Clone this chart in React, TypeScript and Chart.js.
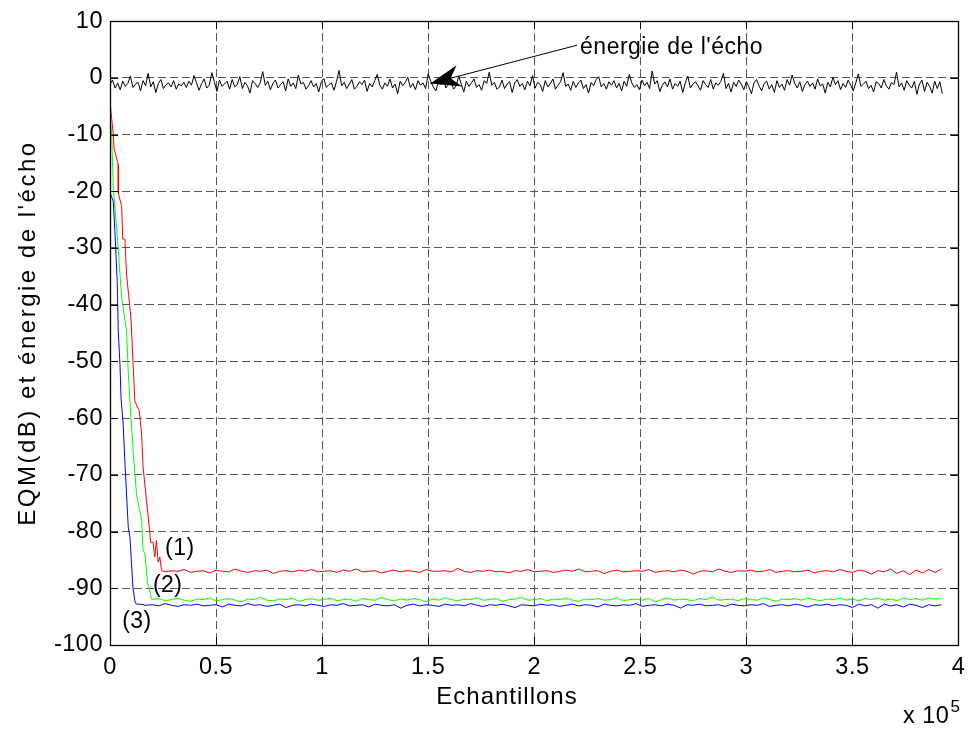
import React, { useEffect, useRef } from 'react';
import { Chart, registerables } from 'chart.js';
Chart.register(...registerables);

const FONT = "'Liberation Sans', Arial, Helvetica, sans-serif";

const X_TICK_LABELS = ['0', '0.5', '1', '1.5', '2', '2.5', '3', '3.5', '4'];
const Y_TICK_LABELS = ['-100', '-90', '-80', '-70', '-60', '-50', '-40', '-30', '-20', '-10', '0', '10'];
const X_TITLE = 'Echantillons';
const Y_TITLE = "EQM(dB) et énergie de l'écho";
const X_EXP_BASE = 'x 10';
const X_EXP_POW = '5';

// energy of the echo (black), sampled from x = 0 with constant spacing (x 10^5 samples)
const BLACK_START = 0;
const BLACK_STEP = 0.012;
const BLACK_Y = [
  -1.2,-0.4,-1.8,-0.9,-2.1,-0.6,-1.5,-1.0,0.3,-1.7,-1.1,-0.8,-2.3,-0.5,-1.4,0.8,-1.6,-0.7,-2.6,-1.0,
  -0.3,-1.9,-1.2,-0.9,-1.6,-0.5,-2.0,-1.1,-1.4,-0.8,-1.7,-0.6,-1.3,0.4,-0.9,-2.2,-1.0,-0.2,-1.8,-1.3,
  0.9,-0.7,-2.4,-0.4,-1.5,-1.1,-0.6,-2.0,-0.3,-1.6,-1.2,0.2,-1.9,-0.8,-1.4,-2.7,-0.5,-1.0,-1.7,-0.9,
  1.1,-1.3,-0.6,-2.1,-1.0,-0.4,-1.8,-1.2,-0.7,-2.3,-0.2,-1.5,-0.9,-1.9,0.5,-1.1,-0.8,-2.0,-1.4,-0.5,
  -1.6,-1.0,-2.5,-0.7,-0.1,-1.7,-1.2,-0.9,-2.2,-0.6,1.3,-1.4,-0.8,-1.9,-1.1,-0.3,-2.0,-1.5,-0.7,-1.2,
  -0.4,-2.4,-1.0,-1.6,-0.5,0.6,-1.3,-2.0,-0.9,-1.5,-0.2,-1.8,-1.1,-2.8,-0.6,-1.4,-0.8,0.1,-1.7,-1.0,
  -2.1,-0.5,-1.3,-0.9,-1.9,0.7,-0.6,-1.6,-2.3,-0.8,-1.2,-0.3,-1.8,-1.0,-0.7,-2.0,-1.4,0.3,-1.1,-2.5,
  -0.6,-1.5,-0.9,-0.2,-1.7,-1.2,-2.2,-0.5,-1.0,1.0,-1.3,-0.8,-2.0,-1.6,-0.4,-1.9,-1.1,-0.7,-2.6,-0.9,
  -0.3,-1.5,-1.0,-2.1,-0.6,-1.4,0.4,-1.8,-0.8,-1.2,-2.4,-0.5,-1.6,-1.0,-0.2,-2.0,-1.3,-0.7,0.9,-1.5,
  -1.1,-2.2,-0.6,-1.7,-0.9,-0.4,-1.9,-1.2,-2.7,-0.8,-1.4,-0.3,0.2,-1.6,-1.0,-2.0,-0.7,-1.3,-0.5,-1.8,
  -1.0,-2.3,-0.6,-1.5,0.6,-0.9,-1.7,-1.2,-2.1,-0.4,-1.4,-0.8,-1.9,1.2,-1.1,-0.5,-2.4,-1.3,-0.7,-1.6,
  -0.2,-2.0,-1.0,-1.5,-0.6,-2.6,-0.9,0.3,-1.8,-1.1,-0.7,-1.4,-2.2,-0.5,-1.2,-1.7,-0.3,-2.0,-0.9,-1.3,
  -0.6,0.8,-1.9,-1.0,-2.5,-0.8,-1.5,-0.4,-1.1,-2.1,-0.7,-1.6,-2.8,-0.9,-0.3,-1.4,-2.3,-1.0,-0.6,-2.0,
  -1.2,-2.6,
  -0.5,-1.7,-1.1,-2.2,-0.3,-1.3,0.5,-1.0,-1.8,-0.7,-2.4,-1.2,-0.6,-1.5,-0.9,-2.0,-0.2,-1.4,-1.1,-2.7,
  -0.8,-1.6,0.1,-1.2,-0.5,-2.1,-1.0,-1.7,-0.4,-1.3,-2.3,-0.9,0.7,-1.5,-1.1,-0.6,-1.9,-1.3,-2.5,-0.7,
  -1.0,-1.8,-0.3,-1.4,-2.0,-0.8,-1.2,1.0,-1.6,-0.9,-2.2,-0.5,-1.3,-1.8,-0.6,-2.9,-1.1,-0.4,-2.4,-0.8,
  -1.5,-2.7,-0.6,-1.9,-0.7,-2.8,
];

// curve (1) red: convergence then steady state
const RED_DESC_X = [0, 0.0155, 0.019, 0.039, 0.039, 0.055, 0.06, 0.07, 0.078, 0.094, 0.099, 0.109, 0.117, 0.138, 0.149, 0.156, 0.172, 0.188, 0.191, 0.203, 0.211, 0.219, 0.227, 0.235, 0.243];
const RED_DESC_Y = [-4.2, -10, -12.4, -15.3, -20.3, -22.7, -28.4, -28.4, -34.6, -40.6, -42.6, -50.5, -57, -58.7, -62.8, -68.7, -74.5, -80.3, -81.9, -81.9, -84.5, -81.6, -85.4, -84.5, -86.9];
const RED_FLOOR_START = 0.26;
const RED_FLOOR_STEP = 0.03;
const RED_FLOOR_Y = [
  -87.1,-86.9,-87.0,-86.7,-87.2,-87.0,-86.9,-87.3,-86.8,-87.0,
  -87.1,-86.6,-87.0,-87.2,-86.9,-87.0,-86.8,-87.4,-87.0,-86.9,
  -87.1,-86.8,-87.0,-86.7,-87.1,-87.0,-86.9,-87.2,-86.8,-87.0,
  -86.6,-87.1,-87.0,-86.9,-87.3,-87.0,-86.8,-87.1,-86.9,-87.0,
  -87.2,-86.7,-87.0,-87.0,-86.9,-87.1,-86.5,-87.0,-87.2,-86.9,
  -87.0,-86.8,-87.1,-87.0,-87.3,-86.9,-87.0,-86.7,-87.1,-87.0,
  -86.9,-87.2,-87.0,-86.8,-87.0,-86.6,-87.1,-87.0,-86.9,-87.4,
  -87.0,-86.8,-87.1,-87.0,-86.9,-87.0,-86.7,-87.2,-87.0,-86.9,
  -87.1,-86.8,-87.0,-87.5,-87.0,-86.9,-87.1,-86.6,-87.0,-87.2,
  -86.9,-87.0,-86.8,-87.1,-87.0,-86.7,-87.2,-87.0,-86.9,-87.1,
  -87.0,-86.8,-87.3,-87.0,-86.9,-87.1,-86.7,-87.0,-87.2,-86.8,
  -87.0,-87.5,-86.9,-87.1,-86.6,-87.4,-86.9,-87.6,-86.8,-87.3,
  -86.7,-87.2,-86.6,
];

// curve (2) green
const GREEN_DESC_X = [0, 0.008, 0.0155, 0.034, 0.055, 0.078, 0.086, 0.094, 0.109, 0.125, 0.149, 0.156, 0.164, 0.178, 0.188, 0.195];
const GREEN_DESC_Y = [-7.2, -10, -19.5, -27.6, -38.8, -44.7, -51.7, -57, -65.8, -73.4, -78, -83.3, -83.9, -89.2, -90.4, -91.9];
const GREEN_FLOOR_START = 0.2;
const GREEN_FLOOR_STEP = 0.03;
const GREEN_FLOOR_Y = [
  -92.0,-91.8,-92.2,-92.0,-91.7,-92.1,-92.3,-91.9,-92.0,-91.7,
  -92.2,-92.0,-91.8,-92.1,-92.4,-91.9,-92.0,-91.6,-92.1,-92.2,
  -91.9,-92.0,-91.7,-92.3,-92.0,-91.8,-92.1,-92.0,-91.7,-92.2,
  -92.0,-91.9,-92.3,-91.8,-92.0,-92.1,-91.6,-92.0,-92.2,-91.9,
  -92.1,-91.8,-92.0,-92.4,-91.9,-92.1,-91.7,-92.0,-92.2,-91.9,
  -92.0,-91.7,-92.1,-92.0,-91.8,-92.3,-92.0,-91.9,-91.6,-92.1,
  -92.0,-91.8,-92.2,-91.9,-92.0,-91.7,-92.1,-92.3,-91.9,-92.0,
  -91.8,-92.1,-92.0,-91.7,-92.2,-92.0,-91.9,-92.1,-91.8,-92.4,
  -92.0,-91.7,-92.1,-91.9,-92.0,-92.2,-91.8,-92.0,-91.6,-92.1,
  -92.0,-91.9,-92.2,-91.8,-92.0,-92.1,-91.7,-92.0,-92.3,-91.9,
  -92.0,-91.8,-92.1,-91.7,-92.0,-92.2,-91.9,-92.0,-91.7,-92.1,
  -91.9,-92.2,-91.8,-92.0,-91.7,-92.1,-91.9,-92.2,-91.7,-92.0,
  -91.8,-92.1,-91.7,-91.9,-91.8,
];

// curve (3) blue
const BLUE_DESC_X = [0, 0.001, 0.0155, 0.023, 0.028, 0.034, 0.039, 0.047, 0.052, 0.062, 0.07, 0.078, 0.086, 0.094, 0.108, 0.118, 0.125];
const BLUE_DESC_Y = [-10, -20.3, -21.8, -27.1, -31.1, -35.9, -44.7, -50.5, -56.4, -61.1, -67.5, -73.4, -79.2, -81, -89.8, -92.4, -92.8];
const BLUE_FLOOR_START = 0.14;
const BLUE_FLOOR_STEP = 0.03;
const BLUE_FLOOR_Y = [
  -92.8,-93.0,-92.9,-93.1,-92.7,-93.0,-93.2,-92.9,-93.0,-92.8,
  -93.1,-93.0,-92.9,-93.3,-92.8,-93.0,-93.1,-92.7,-93.0,-92.9,
  -93.2,-93.0,-92.8,-93.4,-93.0,-92.9,-93.1,-92.8,-93.0,-93.2,
  -92.9,-93.0,-92.7,-93.1,-93.0,-92.9,-93.3,-92.8,-93.0,-93.1,
  -92.9,-93.5,-93.0,-92.8,-93.1,-92.9,-93.0,-93.2,-92.8,-93.0,
  -92.9,-93.1,-92.7,-93.0,-93.2,-92.9,-93.0,-92.8,-93.1,-93.4,
  -92.9,-93.0,-93.1,-92.8,-93.0,-92.9,-93.2,-93.0,-92.8,-93.1,
  -92.9,-93.0,-93.3,-92.8,-93.0,-93.1,-92.9,-93.0,-92.7,-93.2,
  -93.0,-92.9,-93.1,-92.8,-93.0,-93.5,-92.9,-93.0,-92.8,-93.1,
  -93.0,-92.9,-93.2,-92.8,-93.0,-93.1,-92.9,-93.0,-92.7,-93.2,
  -93.0,-92.9,-93.1,-92.8,-93.0,-93.3,-92.9,-93.0,-92.8,-93.1,
  -92.9,-93.0,-93.4,-92.8,-93.1,-92.9,-93.5,-92.8,-93.1,-92.9,
  -93.3,-92.8,-93.0,-93.4,-92.9,-93.1,-92.9,
];

// annotations (data coordinates)
const ANNOT_TEXT = "énergie de l'écho";
const ANNOT_TEXT_AT = [2.216, 4.22];
const ANNOT_LINE_FROM = [2.202, 5.75];
const ANNOT_ARROW_TIP = [1.51, -1.0];
const CURVE_LABELS = ['(1)', '(2)', '(3)'];
const CURVE_LABEL_AT = [[0.329, -83.0], [0.272, -89.5], [0.127, -95.8]];

function evenSeries(start: number, step: number, ys: number[]) {
  return ys.map((v, i) => ({ x: start + i * step, y: v }));
}
function xySeries(xs: number[], ys: number[]) {
  return xs.map((x, i) => ({ x, y: ys[i] }));
}

const decorPlugin = {
  id: 'decor',
  beforeDraw(chart: any) {
    const ctx = chart.ctx;
    ctx.save();
    ctx.fillStyle = '#fff';
    ctx.fillRect(0, 0, chart.width, chart.height);
    ctx.restore();
    ctx.letterSpacing = '0.5px';
  },
  afterDatasetsDraw(chart: any) {
    const { ctx, chartArea: a, scales } = chart;
    const sx = scales.x;
    const sy = scales.y;
    ctx.save();
    // inward tick marks on all four sides
    ctx.strokeStyle = '#000';
    ctx.lineWidth = 1;
    ctx.beginPath();
    const TL = 8;
    for (const t of sx.ticks) {
      const px = Math.round(sx.getPixelForValue(t.value)) + 0.5;
      ctx.moveTo(px, a.bottom);
      ctx.lineTo(px, a.bottom - TL);
      ctx.moveTo(px, a.top);
      ctx.lineTo(px, a.top + TL);
    }
    for (const t of sy.ticks) {
      const py = Math.round(sy.getPixelForValue(t.value)) + 0.5;
      ctx.moveTo(a.left, py);
      ctx.lineTo(a.left + TL, py);
      ctx.moveTo(a.right, py);
      ctx.lineTo(a.right - TL, py);
    }
    ctx.stroke();
    // axes box
    ctx.lineWidth = 1.3;
    ctx.strokeRect(Math.round(a.left) + 0.5, Math.round(a.top) + 0.5, Math.round(a.right - a.left), Math.round(a.bottom - a.top));

    // annotation arrow
    const tipX = sx.getPixelForValue(ANNOT_ARROW_TIP[0]);
    const tipY = sy.getPixelForValue(ANNOT_ARROW_TIP[1]);
    const fromX = sx.getPixelForValue(ANNOT_LINE_FROM[0]);
    const fromY = sy.getPixelForValue(ANNOT_LINE_FROM[1]);
    ctx.lineWidth = 1;
    ctx.beginPath();
    ctx.moveTo(fromX, fromY);
    ctx.lineTo(tipX, tipY);
    ctx.stroke();
    const dx = fromX - tipX;
    const dy = fromY - tipY;
    const len = Math.hypot(dx, dy);
    const ux = dx / len, uy = dy / len;
    const nx = -uy, ny = ux;
    const HL = 30, HW = 11, NOTCH = 21;
    ctx.fillStyle = '#000';
    ctx.beginPath();
    ctx.moveTo(tipX, tipY);
    ctx.lineTo(tipX + ux * HL + nx * HW, tipY + uy * HL + ny * HW);
    ctx.lineTo(tipX + ux * NOTCH, tipY + uy * NOTCH);
    ctx.lineTo(tipX + ux * HL - nx * HW, tipY + uy * HL - ny * HW);
    ctx.closePath();
    ctx.fill();

    ctx.font = `23px ${FONT}`;
    ctx.letterSpacing = '0.5px';
    ctx.textAlign = 'left';
    ctx.textBaseline = 'alphabetic';
    ctx.fillText(ANNOT_TEXT, sx.getPixelForValue(ANNOT_TEXT_AT[0]), sy.getPixelForValue(ANNOT_TEXT_AT[1]));

    // curve labels
    ctx.letterSpacing = '0.5px';
    ctx.textAlign = 'center';
    ctx.textBaseline = 'middle';
    CURVE_LABELS.forEach((lab, i) => {
      ctx.fillText(lab, sx.getPixelForValue(CURVE_LABEL_AT[i][0]), sy.getPixelForValue(CURVE_LABEL_AT[i][1]));
    });

    // axis titles
    ctx.letterSpacing = '1px';
    ctx.textAlign = 'center';
    ctx.textBaseline = 'middle';
    ctx.font = `24px ${FONT}`;
    ctx.fillText(X_TITLE, 507, 697);
    ctx.save();
    ctx.translate(28, (a.top + a.bottom) / 2);
    ctx.rotate(-Math.PI / 2);
    ctx.font = `24px ${FONT}`;
    ctx.letterSpacing = '2.5px';
    ctx.fillText(Y_TITLE, 0, 0);
    ctx.restore();

    // x 10^5 multiplier
    ctx.letterSpacing = '0.5px';
    ctx.textAlign = 'left';
    ctx.textBaseline = 'alphabetic';
    ctx.font = `23.5px ${FONT}`;
    const baseX = 903;
    const baseY = 723;
    ctx.fillText(X_EXP_BASE, baseX, baseY);
    const w = ctx.measureText(X_EXP_BASE).width;
    ctx.font = `17px ${FONT}`;
    ctx.fillText(X_EXP_POW, baseX + w + 1, baseY - 11);
    ctx.restore();
  },
  afterDraw(chart: any) {
    chart.ctx.letterSpacing = '0px';
  },
};

export default function App() {
  const ref = useRef<HTMLCanvasElement>(null);
  useEffect(() => {
    const canvas = ref.current;
    if (!canvas) return;
    const tickFont = { family: FONT, size: 23.5 };
    const chart = new Chart(canvas, {
      type: 'line',
      data: {
        datasets: [
          {
            label: 'black',
            data: evenSeries(BLACK_START, BLACK_STEP, BLACK_Y),
            borderColor: '#000000',
          },
          {
            label: '(3)',
            data: [...xySeries(BLUE_DESC_X, BLUE_DESC_Y), ...evenSeries(BLUE_FLOOR_START, BLUE_FLOOR_STEP, BLUE_FLOOR_Y)],
            borderColor: '#0000ff',
          },
          {
            label: '(2)',
            data: [...xySeries(GREEN_DESC_X, GREEN_DESC_Y), ...evenSeries(GREEN_FLOOR_START, GREEN_FLOOR_STEP, GREEN_FLOOR_Y)],
            borderColor: '#00ff00',
          },
          {
            label: '(1)',
            data: [...xySeries(RED_DESC_X, RED_DESC_Y), ...evenSeries(RED_FLOOR_START, RED_FLOOR_STEP, RED_FLOOR_Y)],
            borderColor: '#ff0000',
          },
        ],
      },
      options: {
        animation: false,
        responsive: false,
        events: [],
        layout: { padding: { top: 19, right: 11, left: 0, bottom: 0 } },
        elements: {
          line: { borderWidth: 1, tension: 0, fill: false },
          point: { radius: 0, hoverRadius: 0 },
        },
        plugins: {
          legend: { display: false },
          tooltip: { enabled: false },
          title: { display: false },
        },
        scales: {
          x: {
            type: 'linear',
            min: 0,
            max: 4,
            afterFit: (s: any) => { s.height = 84; },
            ticks: {
              stepSize: 0.5,
              autoSkip: false,
              maxRotation: 0,
              padding: 8,
              color: '#000',
              font: tickFont,
              callback: (_v: any, i: number) => X_TICK_LABELS[i],
            },
            grid: { color: '#555', lineWidth: 1, drawTicks: false },
            border: { display: false, dash: [8, 4] },
            title: { display: false, text: X_TITLE },
          },
          y: {
            type: 'linear',
            min: -100,
            max: 10,
            afterFit: (s: any) => { s.width = 110; },
            ticks: {
              stepSize: 10,
              autoSkip: false,
              padding: 7,
              color: '#000',
              font: tickFont,
              callback: (_v: any, i: number) => Y_TICK_LABELS[i],
            },
            grid: { color: '#555', lineWidth: 1, drawTicks: false },
            border: { display: false, dash: [8, 4] },
            title: { display: false, text: Y_TITLE },
          },
        },
      },
      plugins: [decorPlugin],
    } as any);
    return () => chart.destroy();
  }, []);
  return (
    <div style={{ position: 'fixed', left: 0, top: 0, width: 973, height: 729, background: '#fff' }}>
      <canvas ref={ref} width={973} height={729} style={{ display: 'block' }} />
    </div>
  );
}
